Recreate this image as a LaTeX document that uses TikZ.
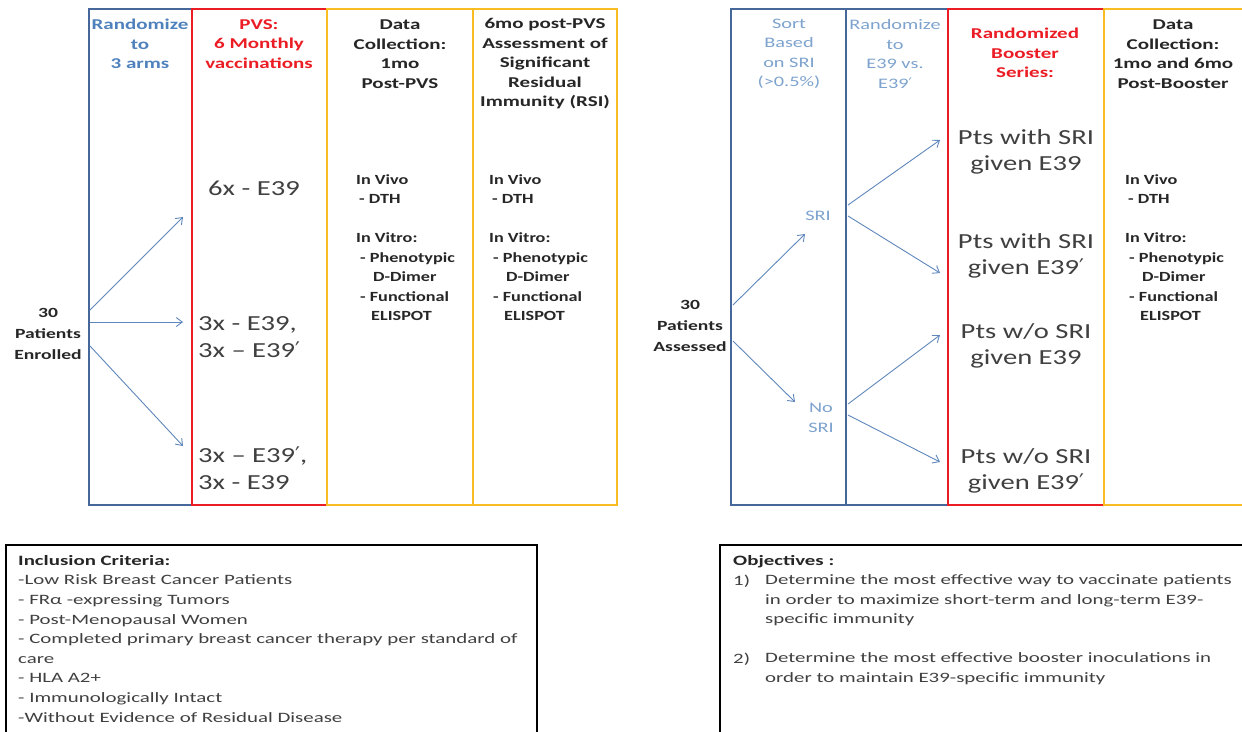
\documentclass[tikz,border=0pt]{standalone}
\usepackage{fontspec}
\setmainfont{Carlito}[FakeStretch=1.4]
\newfontfamily\bigf{Carlito}[FakeStretch=1.33]
\newfontfamily\lstf{Carlito}[FakeStretch=1.3]
\newfontfamily\smf{Carlito}[FakeStretch=1.46]
\newfontfamily\symf{DejaVu Sans}
\newcommand{\prm}{{\symf ′}}
\usetikzlibrary{arrows.meta}
\definecolor{bxblue}{HTML}{46679A}
\definecolor{bxred}{HTML}{EC1C24}
\definecolor{bxyellow}{HTML}{F9BD22}
\definecolor{hdblue}{HTML}{4F81BD}
\definecolor{ltblue}{HTML}{7DA3CE}
\definecolor{arblue}{HTML}{5F87BC}
\definecolor{txdark}{HTML}{262626}
\definecolor{txgrey}{HTML}{404040}
\begin{document}
\begin{tikzpicture}[x=1pt,y=-1pt,
  hdr/.style={align=center, inner sep=0pt, font=\fontsize{15}{19.5}\selectfont\bfseries, text=txdark},
  hdrlt/.style={align=center, inner sep=0pt, font=\fontsize{14.5}{19.5}\selectfont, text=ltblue},
  lst/.style={align=left, anchor=north west, inner sep=0pt, font=\lstf\fontsize{14}{19.5}\selectfont\bfseries, text=txdark},
  big/.style={inner sep=0pt, font=\bigf\fontsize{21.5}{26.5}\selectfont, text=txgrey},
  bigl/.style={big, align=left, anchor=west},
  bigc/.style={big, align=center},
  pat/.style={align=center, inner sep=0pt, font=\fontsize{14}{21}\selectfont\bfseries, text=txdark},
  small/.style={align=left, anchor=north west, inner sep=0pt, font=\smf\fontsize{14.3}{19.6}\selectfont, text=txgrey},
  arr/.style={-{Straight Barb[length=6pt,width=9pt]}, draw=arblue, line width=0.9pt},
  bx/.style={line width=2.6pt},
  infobox/.style={line width=2pt, draw=black}
]
\useasboundingbox (0,0) rectangle (1242,731);
\fill[white] (0,0) rectangle (1242,731);

% ---------- left section boxes ----------
\draw[bx, draw=bxblue] (89,9) rectangle (192,505);
\draw[bx, draw=bxred] (192,9) rectangle (327,505);
\draw[bx, draw=bxyellow] (327,9) rectangle (473,505);
\draw[bx, draw=bxyellow] (473,9) rectangle (617,505);

% ---------- right section boxes ----------
\draw[bx, draw=bxblue] (731,9) rectangle (846,505);
\draw[bx, draw=bxblue] (846,9) rectangle (948,505);
\draw[bx, draw=bxred] (948,9) rectangle (1104,505);
\draw[bx, draw=bxyellow] (1104,9) rectangle (1260,505);

% ---------- left headers ----------
\node[hdr, text=hdblue] (h1) at (140,44) {Randomize\\to\\3 arms};
\node[hdr, text=bxred] (h2) at (259,44) {PVS:\\6 Monthly\\vaccinations};
\node[hdr] (h3) at (400,54) {Data\\Collection:\\1mo\\Post-PVS};
\node[hdr] (h4) at (545,64) {6mo post-PVS\\Assessment of\\Significant\\Residual\\Immunity (RSI)};

% ---------- right headers ----------
\node[hdrlt] (h5) at (789,54) {Sort\\Based\\on SRI\\(>0.5\%)};
\node[hdrlt] (h6) at (895,54) {Randomize\\to\\E39 vs.\\E39\prm};
\node[hdr, text=bxred] (h7) at (1025,53) {Randomized\\Booster\\Series:};
\node[hdr] (h8) at (1173,54) {Data\\Collection:\\1mo and 6mo\\Post-Booster};

% ---------- left flow ----------
\node[pat] (enr) at (48,334) {30\\Patients\\Enrolled};
\coordinate (s1) at (90,310);
\coordinate (s2) at (90,322);
\coordinate (s3) at (90,346);
\coordinate (e1) at (183,217);
\coordinate (e2) at (183,322);
\coordinate (e3) at (183,446);
\draw[arr] (s1) -- (e1);
\draw[arr] (s2) -- (e2);
\draw[arr] (s3) -- (e3);

\node[bigc] (arm1) at (254,188) {6x - E39};
\node[bigl] (arm2) at (198,337) {3x - E39,\\3x – E39\prm};
\node[bigl] (arm3) at (198,468) {3x – E39\prm,\\3x - E39};

\node[lst] (l1) at (356,174) {In Vivo\\\hspace{3pt}- DTH\\[19.5pt]In Vitro:\\\hspace{4pt}- Phenotypic\\\hspace{17pt}D-Dimer\\\hspace{4pt}- Functional\\\hspace{15pt}ELISPOT};
\node[lst] (l2) at (489,174) {In Vivo\\\hspace{3pt}- DTH\\[19.5pt]In Vitro:\\\hspace{4pt}- Phenotypic\\\hspace{17pt}D-Dimer\\\hspace{4pt}- Functional\\\hspace{15pt}ELISPOT};

% ---------- right flow ----------
\node[pat] (ass) at (690,326) {30\\Patients\\Assessed};
\node[hdrlt] (sri) at (818,216) {SRI};
\node[hdrlt] (nosri) at (821,418) {No\\SRI};
\coordinate (r1) at (733,305);
\coordinate (r2) at (733,341);
\coordinate (q1) at (805,234);
\coordinate (q2) at (795,402);
\draw[arr] (r1) -- (q1);
\draw[arr] (r2) -- (q2);
\coordinate (t1) at (848,205);
\coordinate (t2) at (848,216);
\coordinate (t3) at (848,404);
\coordinate (t4) at (848,415);
\coordinate (u1) at (940,140);
\coordinate (u2) at (940,273);
\coordinate (u3) at (940,335);
\coordinate (u4) at (940,462);
\draw[arr] (t1) -- (u1);
\draw[arr] (t2) -- (u2);
\draw[arr] (t3) -- (u3);
\draw[arr] (t4) -- (u4);

\node[bigc] (g1) at (1026,152) {Pts with SRI\\given E39};
\node[bigc] (g2) at (1026,256) {Pts with SRI\\given E39\prm};
\node[bigc] (g3) at (1026,346) {Pts w/o SRI\\given E39};
\node[bigc] (g4) at (1026,471) {Pts w/o SRI\\given E39\prm};

\node[lst] (l3) at (1125,174) {In Vivo\\\hspace{3pt}- DTH\\[19.5pt]In Vitro:\\\hspace{4pt}- Phenotypic\\\hspace{17pt}D-Dimer\\\hspace{4pt}- Functional\\\hspace{15pt}ELISPOT};

% ---------- bottom boxes ----------
\draw[infobox] (6,740) |- (537,545) -- (537,740);
\node[small] (incl) at (18,555) {\textbf{\textcolor{txdark}{Inclusion Criteria:}}\\-Low Risk Breast Cancer Patients\\- FRα -expressing Tumors\\- Post-Menopausal Women\\- Completed primary breast cancer therapy per standard of\\care\\- HLA A2+\\- Immunologically Intact\\-Without Evidence of Residual Disease};

\draw[infobox] (720,740) |- (1260,545);
\node[small] (objt) at (733,555) {\textbf{\textcolor{txdark}{Objectives :}}};
\node[small] (n1) at (733,574.6) {1)};
\node[small] (o1) at (765,574.6) {Determine the most effective way to vaccinate patients\\in order to maximize short-term and long-term E39-\\specific immunity};
\node[small] (n2) at (733,652.6) {2)};
\node[small] (o2) at (765,652.6) {Determine the most effective booster inoculations in\\order to maintain E39-specific immunity};
\end{tikzpicture}
\end{document}
